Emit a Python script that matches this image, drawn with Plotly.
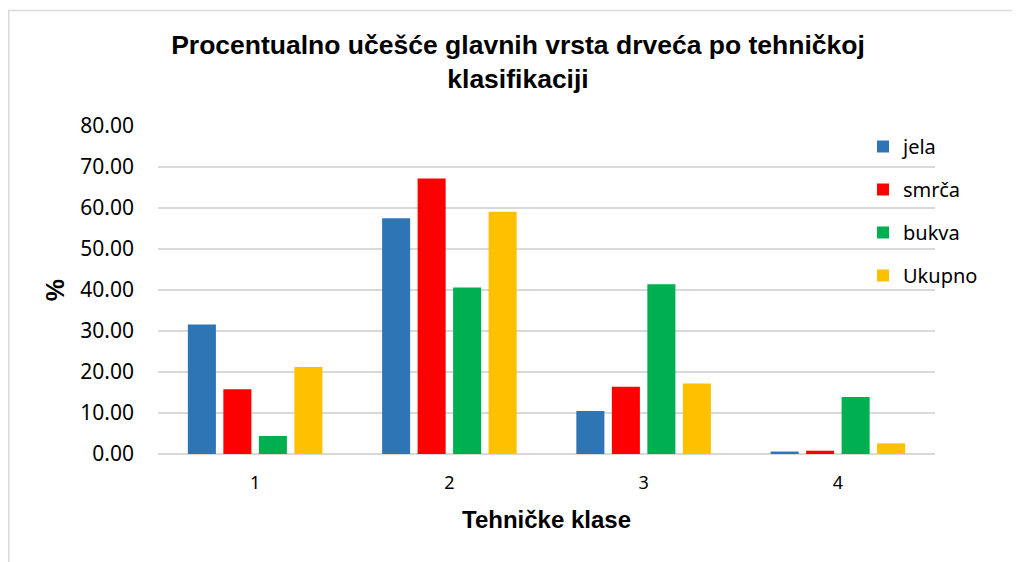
import plotly.graph_objects as go

categories = ["1", "2", "3", "4"]
jela = [31.6, 57.5, 10.5, 0.6]
smrca = [15.8, 67.2, 16.4, 0.8]
bukva = [4.4, 40.6, 41.4, 13.9]
ukupno = [21.2, 59.1, 17.2, 2.6]
series_names = ["jela", "smrča", "bukva", "Ukupno"]
colors = ["#2E75B6", "#FF0000", "#00B050", "#FFC000"]
y_ticks = [0, 10, 20, 30, 40, 50, 60, 70, 80]

fig = go.Figure()
for name, vals, col in zip(series_names, [jela, smrca, bukva, ukupno], colors):
    fig.add_trace(go.Bar(x=categories, y=vals, name=name, legendgroup=name,
                         marker=dict(color=col, line=dict(width=0))))

# page has an 8px body margin; work in figure coordinates
OFF = 8
W, H = 1020 - OFF, 562 - OFF
L, R, T, B = 158 - OFF, 1020 - 935, 126 - OFF, 562 - 454
pw, ph = W - L - R, H - T - B

def px_x(p):
    return (p - OFF - L) / pw

def px_y(p):
    return (H - B - (p - OFF)) / ph

fig.add_shape(type="rect", xref="paper", yref="paper",
              x0=(0.75 - L) / pw, x1=px_x(1040), y0=px_y(10.5), y1=px_y(590),
              line=dict(color="#d9d9d9", width=1.5), fillcolor="rgba(0,0,0,0)", layer="below")

fig.update_layout(
    width=W, height=H,
    margin=dict(l=L, r=R, t=T, b=B),
    paper_bgcolor="white", plot_bgcolor="white",
    barmode="group", bargap=0.269, bargroupgap=0.21,
    title=dict(text="<b>Procentualno učešće glavnih vrsta drveća po tehničkoj<br>klasifikaciji</b>",
               x=(518 - OFF) / W, xanchor="center", y=1 - (54 - OFF) / H, yanchor="middle",
               font=dict(family="Liberation Sans, Arial", size=26.5, color="#000000")),
    font=dict(family="Noto Sans, Open Sans", color="#000000"),
    legend=dict(x=px_x(863), xanchor="left", y=px_y(127), yanchor="top",
                traceorder="grouped", tracegroupgap=14,
                font=dict(family="Noto Sans", size=20, color="#000000"),
                itemwidth=30, bgcolor="rgba(0,0,0,0)"),
    xaxis=dict(type="category", showgrid=False, showline=False, ticks="",
               ticklabelstandoff=16,
               tickfont=dict(family="Noto Sans", size=18, color="#000000"),
               title=dict(text="<b>Tehničke klase</b>", standoff=18,
                          font=dict(family="Liberation Sans, Arial", size=24, color="#000000"))),
    yaxis=dict(range=[0, 80], tickvals=y_ticks, tickformat=".2f",
               showgrid=True, gridcolor="#d9d9d9", gridwidth=1.5,
               zeroline=True, zerolinecolor="#d9d9d9", zerolinewidth=1.5,
               showline=False, ticks="", ticklabelstandoff=23,
               tickfont=dict(family="Noto Sans", size=21, color="#000000"),
               title=dict(text="<b>%</b>", standoff=8,
                          font=dict(family="Liberation Sans, Arial", size=25, color="#000000"))),
)

fig.write_html("out.html")
